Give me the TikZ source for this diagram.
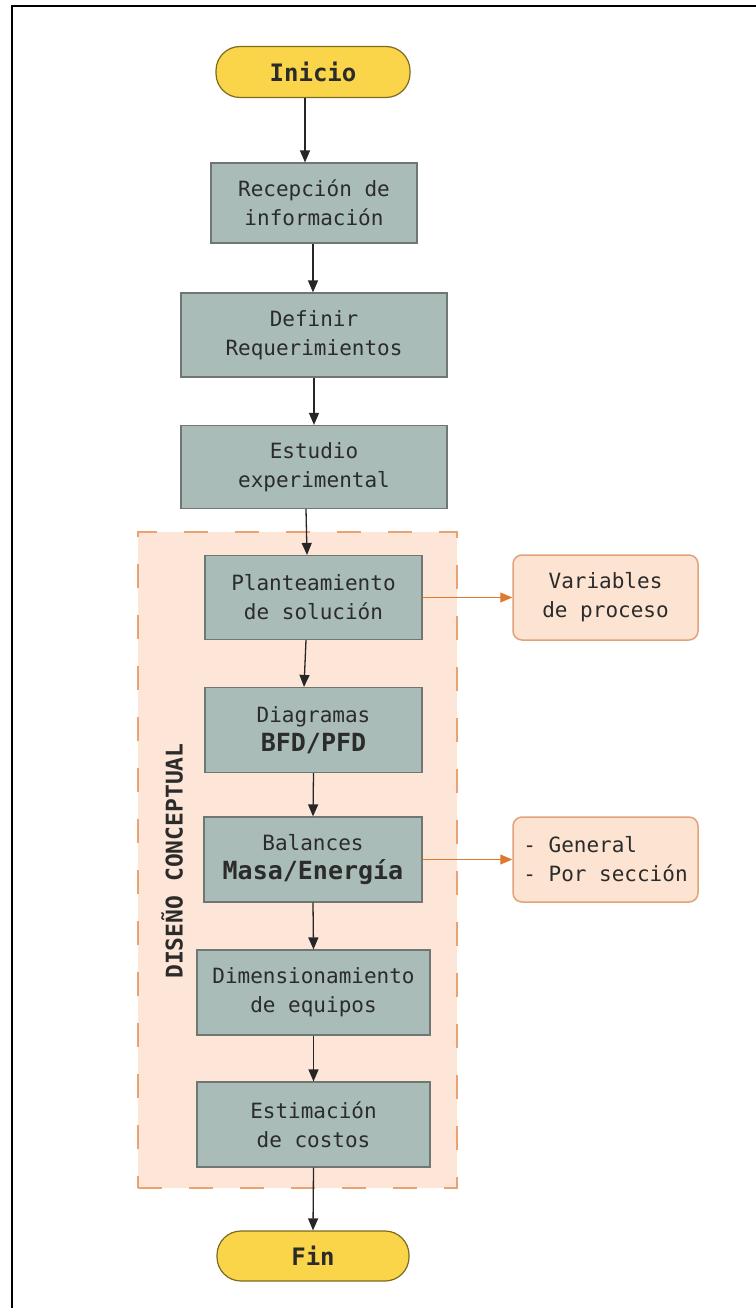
\documentclass[tikz,border=0pt]{standalone}
\usepackage{fontspec}
\setmainfont{DejaVu Sans Mono}
\usetikzlibrary{arrows.meta}

\definecolor{boxfill}{HTML}{A9BCB8}
\definecolor{boxline}{HTML}{6F7775}
\definecolor{termfill}{HTML}{FAD54A}
\definecolor{termline}{HTML}{7D6B1F}
\definecolor{groupfill}{HTML}{FDE6D8}
\definecolor{groupline}{HTML}{E9A373}
\definecolor{notefill}{HTML}{FDE3D2}
\definecolor{noteline}{HTML}{E3A27A}
\definecolor{orangearrow}{HTML}{E0782F}
\definecolor{txt}{HTML}{2B2B2B}

\tikzset{
  stepbox/.style={draw=boxline, fill=boxfill, line width=1.2pt, text=txt,
    minimum height=84pt, align=center, inner sep=0pt,
    font=\fontsize{21}{29}\selectfont},
  terminal/.style={draw=termline, fill=termfill, line width=1.2pt, text=txt,
    rounded corners=24pt, minimum width=194pt, minimum height=51pt,
    font=\fontsize{24}{29}\selectfont\bfseries},
  notebox/.style={draw=noteline, fill=notefill, line width=1.5pt, text=txt,
    rounded corners=9pt, minimum width=185pt, minimum height=85pt,
    inner sep=0pt, font=\fontsize{21}{29}\selectfont},
  flow/.style={draw=black!85, line width=1.3pt, -{Triangle[length=12pt,width=10pt]}},
  sideflow/.style={draw=orangearrow, line width=1.2pt,
    -{Triangle[length=12pt,width=10pt,fill=orangearrow]}},
}
\newcommand{\bigbold}[1]{{\fontsize{25}{29}\selectfont\bfseries #1}}

\begin{document}
\begin{tikzpicture}[x=1pt,y=-1pt]
  \useasboundingbox (0,0) rectangle (755,1308);

  % frame lines
  \draw[line width=2.5pt, line cap=rect] (12,1308) -- (12,6) -- (755,6);

  % conceptual design group
  \node[draw=groupline, fill=groupfill, line width=2pt,
        dash pattern=on 24pt off 27pt, minimum width=319pt, minimum height=656pt,
        inner sep=0pt] (group) at (297.5,860) {};
  \node[rotate=90, text=txt, font=\fontsize{23}{28}\selectfont\bfseries] (grouplabel)
        at (172,861) {DISEÑO CONCEPTUAL};

  % main flow
  \node[terminal] (inicio) at (313,72) {Inicio};
  \node[stepbox, minimum width=206pt, minimum height=80pt] (recep) at (314,203)
        {Recepción de\\información};
  \node[stepbox, minimum width=266pt] (definir) at (314,335)
        {Definir\\Requerimientos};
  \node[stepbox, minimum width=266pt, minimum height=83pt] (estudio) at (314,467)
        {Estudio\\experimental};
  \node[stepbox, minimum width=217pt] (plant) at (313.5,597.5)
        {Planteamiento\\de solución};
  \node[stepbox, minimum width=217pt, minimum height=85pt] (diag) at (313.5,730)
        {Diagramas\\\bigbold{BFD/PFD}};
  \node[stepbox, minimum width=218pt, minimum height=85pt] (bal) at (313,859.5)
        {Balances\\\bigbold{Masa/Energía}};
  \node[stepbox, minimum width=233pt, minimum height=85pt] (dim) at (313.5,992.5)
        {Dimensionamiento\\de equipos};
  \node[stepbox, minimum width=233pt, minimum height=85pt] (est) at (313.5,1124.5)
        {Estimación\\de costos};
  \node[terminal, minimum width=192pt, minimum height=50pt] (fin) at (313,1256) {Fin};

  % side notes
  \node[notebox, align=center] (vars) at (605.5,597.5) {Variables\\de proceso};
  \node[notebox, align=left] (gen) at (605.5,859.5) {- General\\- Por sección};

  % connectors
  \draw[flow] ([xshift=-8pt]inicio.south) -- ([xshift=-9pt]recep.north);
  \draw[flow] ([xshift=-1pt]recep.south) -- ([xshift=-1pt]definir.north);
  \draw[flow] (definir.south) -- (estudio.north);
  \draw[flow] ([xshift=-8pt]estudio.south) -- ([xshift=-6.5pt]plant.north);
  \draw[flow] ([xshift=-7.5pt]plant.south) -- ([xshift=-9.5pt]diag.north);
  \draw[flow] (diag.south) -- (bal.north);
  \draw[flow] (bal.south) -- (dim.north);
  \draw[flow] (dim.south) -- (est.north);
  \draw[flow] (est.south) -- (fin.north);
  \draw[sideflow] (plant.east) -- (vars.west);
  \draw[sideflow] (bal.east) -- (gen.west);
\end{tikzpicture}
\end{document}
